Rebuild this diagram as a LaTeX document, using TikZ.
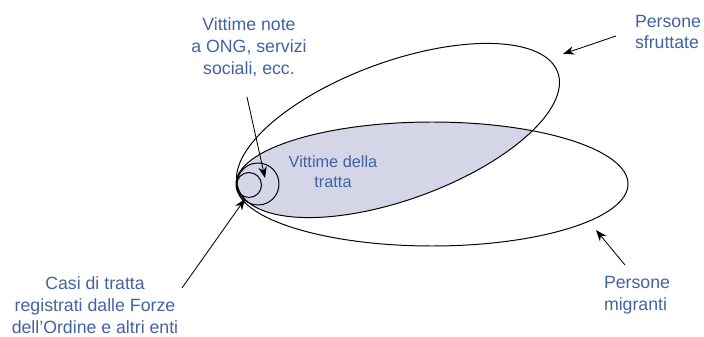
\documentclass[tikz,border=0pt]{standalone}
\usepackage{fontspec}
\setmainfont{Liberation Sans}
\usetikzlibrary{arrows.meta}
\definecolor{blutesto}{HTML}{4262A3}
\definecolor{lilla}{HTML}{D4D6E8}
\tikzset{
  etichetta/.style={text=blutesto, align=center, inner sep=0pt,
    font=\fontsize{12.6}{15.6}\selectfont},
  insieme/.style={draw=black, line width=0.7pt},
  freccia/.style={-{Stealth[length=2.8mm,width=2.1mm]}, line width=0.6pt},
}

\begin{document}
\begin{tikzpicture}[x=0.025cm,y=0.025cm]
  \useasboundingbox (0,0) rectangle (704,336);
  % area condivisa
  \begin{scope}
    \clip (398,205.5) ellipse[x radius=170, y radius=69, rotate=20];
    \fill[lilla] (432,152) ellipse[x radius=196, y radius=62];
  \end{scope}
  % insiemi
  \draw[insieme] (398,205.5) ellipse[x radius=170, y radius=69, rotate=20];
  \draw[insieme] (432,152) ellipse[x radius=196, y radius=62];
  \draw[insieme] (258,152) circle[radius=21];
  \draw[insieme] (249,151) circle[radius=12.5];
  % testi
  \node[etichetta] (note) at (249,289) {Vittime note\\a ONG, servizi\\sociali, ecc.};
  \node[etichetta, font=\fontsize{11.6}{14.2}\selectfont] (vittime) at (333,164) {Vittime della\\tratta};
  \node[etichetta] (casi) at (95,31) {Casi di tratta\\registrati dalle Forze\\dell’Ordine e altri enti};
  \node[etichetta, align=left] (sfruttate) at (668,304) {Persone\\sfruttate};
  \node[etichetta, align=left] (migranti) at (637,41) {Persone\\migranti};
  % frecce
  \coordinate (n0) at (247,239); \coordinate (n1) at (265,158);
  \coordinate (c0) at (182,48);  \coordinate (c1) at (245,137);
  \coordinate (s0) at (616,300); \coordinate (s1) at (563,282);
  \coordinate (m0) at (625,71);  \coordinate (m1) at (596,106);
  \draw[freccia] (n0) -- (n1);
  \draw[freccia] (c0) -- (c1);
  \draw[freccia] (s0) -- (s1);
  \draw[freccia] (m0) -- (m1);
\end{tikzpicture}
\end{document}
